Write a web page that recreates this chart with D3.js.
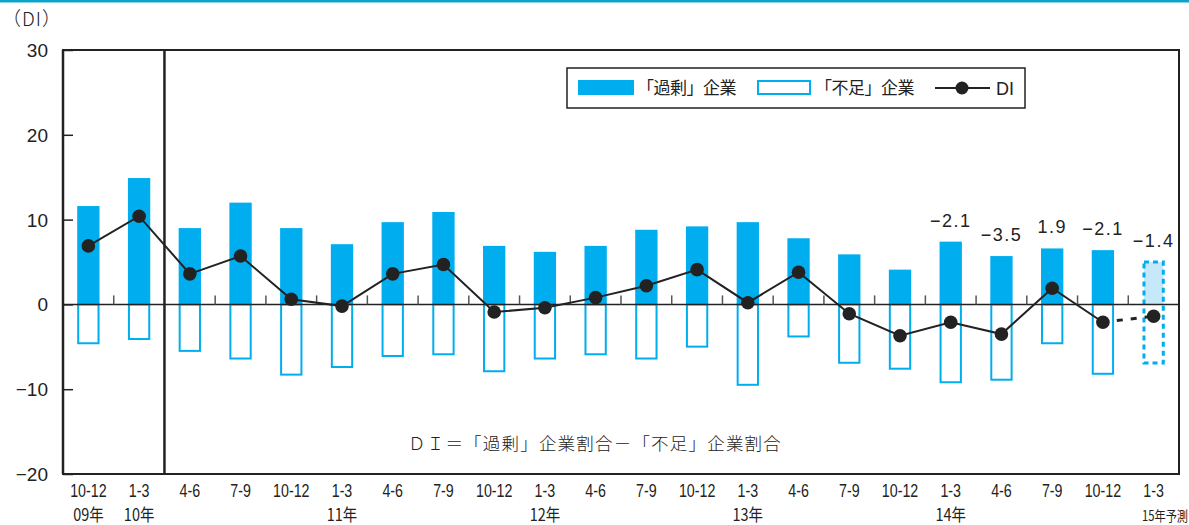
<!DOCTYPE html>
<html><head><meta charset="utf-8">
<script src="https://cdn.jsdelivr.net/npm/d3@7"></script>
<style>
body{margin:0;background:#fff;}
svg{display:block;}
text{font-family:"Liberation Sans",Arimo,"DejaVu Sans",sans-serif;fill:#222;}
.jp{font-family:"Noto Sans CJK JP","Noto Sans",sans-serif;}
</style></head><body>
<script>
const quarters = ["10-12","1-3","4-6","7-9","10-12","1-3","4-6","7-9","10-12","1-3","4-6","7-9","10-12","1-3","4-6","7-9","10-12","1-3","4-6","7-9","10-12","1-3"];
const years = ["09年","10年","","","","11年","","","","12年","","","","13年","","","","14年","","","","15年予測"];
const excess = [11.6,14.9,9.0,12.0,9.0,7.1,9.7,10.9,6.9,6.2,6.9,8.8,9.2,9.7,7.8,5.9,4.1,7.4,5.7,6.6,6.4,5.0];
const shortage = [-4.7,-4.2,-5.6,-6.5,-8.4,-7.5,-6.2,-6.0,-8.0,-6.5,-6.0,-6.5,-5.1,-9.6,-3.9,-7.0,-7.7,-9.3,-9.0,-4.7,-8.3,-6.9];
const di = [6.9,10.4,3.6,5.7,0.6,-0.2,3.6,4.7,-0.9,-0.4,0.8,2.2,4.1,0.2,3.8,-1.1,-3.7,-2.1,-3.5,1.9,-2.1,-1.4];
const diLabels = ["","","","","","","","","","","","","","","","","","−2.1","−3.5","1.9","−2.1","−1.4"];
const yTicks = [30,20,10,0,-10,-20];
const yTickLabels = ["30","20","10","0","−10","−20"];

const W=1189,H=525;
const svg=d3.select("body").append("svg").attr("width",W).attr("height",H);
const X0=63,X1=1179,YT=50,YB=474;
const idx=d3.range(quarters.length);
const x=d3.scaleBand().domain(idx).range([X0,X1]).paddingInner(0.56).paddingOuter(0.28);
const y=d3.scaleLinear().domain([-20,30]).range([YB,YT]);
const step=x.step();
const cx=i=>x(i)+x.bandwidth()/2;
const blue="#00aeef";
const last=quarters.length-1;

// top teal rule
svg.append("rect").attr("x",0).attr("y",0).attr("width",W).attr("height",2.5).attr("fill","#0aa5c8");

// (DI)
svg.append("text").attr("class","jp").attr("x",2).attr("y",26).attr("font-size",19).attr("fill","#333").attr("font-weight",300).attr("letter-spacing",1).text("（DI）");

// y axis ticks
const yAxis=d3.axisRight(y).tickValues(yTicks).tickSize(10).tickFormat("");
svg.append("g").attr("transform",`translate(${X0},0)`).call(yAxis)
  .call(g=>g.select(".domain").remove())
  .call(g=>g.selectAll("line").attr("stroke","#222").attr("stroke-width",1.5));
svg.append("g").selectAll("text").data(yTicks).join("text")
  .attr("x",48).attr("y",d=>y(d)+7).attr("text-anchor","end").attr("font-size",19).attr("fill","#333")
  .text((d,i)=>yTickLabels[i]);

// bars excess
svg.append("g").selectAll("rect").data(idx.slice(0,last)).join("rect")
  .attr("x",i=>x(i)).attr("width",x.bandwidth())
  .attr("y",i=>y(excess[i])).attr("height",i=>y(0)-y(excess[i]))
  .attr("fill",blue);
// bars shortage
svg.append("g").selectAll("rect").data(idx.slice(0,last)).join("rect")
  .attr("x",i=>x(i)+1).attr("width",x.bandwidth()-2)
  .attr("y",y(0)).attr("height",i=>y(shortage[i])-y(0)-1)
  .attr("fill","#fff").attr("stroke",blue).attr("stroke-width",2);
// forecast bar
svg.append("rect").attr("x",x(last)+1.5).attr("width",x.bandwidth()-3)
  .attr("y",y(excess[last])).attr("height",y(0)-y(excess[last]))
  .attr("fill","#c6e8f8");
svg.append("rect").attr("x",x(last)+1.5).attr("width",x.bandwidth()-3)
  .attr("y",y(excess[last])).attr("height",y(shortage[last])-y(excess[last]))
  .attr("fill","none").attr("stroke",blue).attr("stroke-width",3).attr("stroke-dasharray","5,4");

// zero line
svg.append("line").attr("x1",X0).attr("x2",X1).attr("y1",y(0)).attr("y2",y(0)).attr("stroke","#222").attr("stroke-width",1.5);
// small ticks at zero line
svg.append("g").selectAll("line").data(d3.range(1,quarters.length).filter(i=>i!==2)).join("line")
  .attr("x1",i=>X0+i*step).attr("x2",i=>X0+i*step).attr("y1",y(0)-9).attr("y2",y(0))
  .attr("stroke","#555").attr("stroke-width",1.5);

// frame
svg.append("rect").attr("x",X0).attr("y",YT).attr("width",X1-X0).attr("height",YB-YT).attr("fill","none").attr("stroke","#222").attr("stroke-width",2);
svg.append("line").attr("x1",X0).attr("x2",X0).attr("y1",YT).attr("y2",YB).attr("stroke","#222").attr("stroke-width",2.5);
const sep=X0+2*step;
svg.append("line").attr("x1",sep).attr("x2",sep).attr("y1",YT).attr("y2",YB).attr("stroke","#222").attr("stroke-width",2.5);

// DI line
const line=d3.line().x(i=>cx(i)).y(i=>y(di[i]));
svg.append("path").attr("d",line(idx.slice(0,last))).attr("fill","none").attr("stroke","#222").attr("stroke-width",2);
svg.append("path").attr("d",line([last-1,last])).attr("fill","none").attr("stroke","#222").attr("stroke-width",3).attr("stroke-dasharray","6,8");
svg.append("g").selectAll("circle").data(idx).join("circle")
  .attr("cx",i=>cx(i)).attr("cy",i=>y(di[i])).attr("r",6.8).attr("fill","#222");

// DI labels
svg.append("g").selectAll("text").data(idx.filter(i=>diLabels[i])).join("text")
  .attr("x",i=>cx(i)).attr("y",i=>y(excess[i])-15).attr("text-anchor","middle")
  .attr("font-size",18).attr("letter-spacing",1.5).text(i=>diLabels[i]);

// x labels (condensed)
svg.append("g").selectAll("text").data(idx).join("text")
  .attr("transform",i=>`translate(${cx(i)},497) scale(0.75,1)`)
  .attr("text-anchor","middle").attr("font-size",19).attr("fill","#333").text(i=>quarters[i]);
svg.append("g").selectAll("text").data(idx.filter(i=>years[i])).join("text")
  .attr("class","jp")
  .attr("transform",i=>i===last?`translate(${W-1},521) scale(0.8,1)`:`translate(${cx(i)},521) scale(0.85,1)`)
  .attr("text-anchor",i=>i===last?"end":"middle")
  .attr("font-size",i=>i===last?14:17)
  .attr("fill","#333")
  .text(i=>years[i]);

// formula
svg.append("text").attr("class","jp").attr("x",595).attr("y",450).attr("text-anchor","middle")
  .attr("font-size",17.5).attr("letter-spacing",1.2).attr("font-weight",300).attr("fill","#333").text("ＤＩ＝「過剰」企業割合－「不足」企業割合");

// legend
const lg=svg.append("g");
lg.append("rect").attr("x",567).attr("y",68).attr("width",458).attr("height",40).attr("fill","#fff").attr("stroke","#222").attr("stroke-width",1.5);
lg.append("rect").attr("x",578).attr("y",80).attr("width",56).attr("height",15).attr("fill",blue);
lg.append("text").attr("class","jp").attr("x",637).attr("y",94).attr("font-size",17).attr("letter-spacing",-0.5).text("「過剰」企業");
lg.append("rect").attr("x",758).attr("y",81).attr("width",52).attr("height",13).attr("fill","#fff").attr("stroke",blue).attr("stroke-width",2);
lg.append("text").attr("class","jp").attr("x",815).attr("y",94).attr("font-size",17).attr("letter-spacing",-0.5).text("「不足」企業");
lg.append("line").attr("x1",935).attr("x2",990).attr("y1",88).attr("y2",88).attr("stroke","#222").attr("stroke-width",2);
lg.append("circle").attr("cx",962).attr("cy",88).attr("r",6.5).attr("fill","#222");
lg.append("text").attr("x",996).attr("y",95).attr("font-size",18).text("DI");
</script>
</body></html>
